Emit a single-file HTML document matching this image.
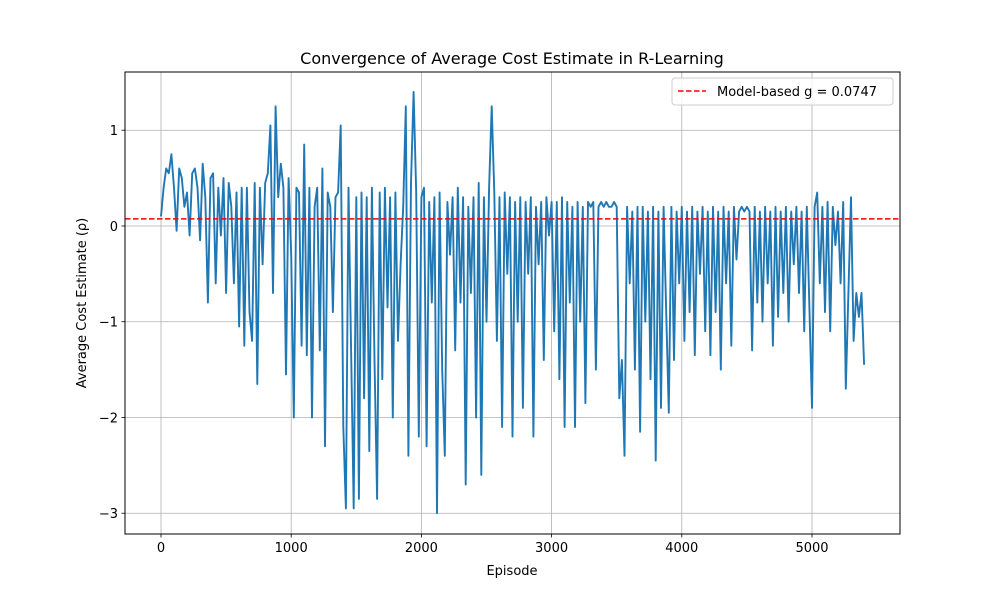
<!DOCTYPE html>
<html><head><meta charset="utf-8"><style>
body{margin:0;background:#fff;font-family:"Liberation Sans","DejaVu Sans",sans-serif;}
</style></head><body>
<svg id="chart" width="1000" height="600" xmlns="http://www.w3.org/2000/svg" font-family="DejaVu Sans, Liberation Sans, sans-serif">
<rect width="1000" height="600" fill="#fff"/>
<g id="grid"></g>
<g id="series"></g>
<rect x="125" y="72" width="775" height="462" fill="none" stroke="#000" stroke-width="1"/>
<g id="ticks"></g>
<text x="512" y="64" text-anchor="middle" font-size="16">Convergence of Average Cost Estimate in R-Learning</text>
<text x="512" y="575" text-anchor="middle" font-size="13">Episode</text>
<text transform="translate(86,303) rotate(-90)" text-anchor="middle" font-size="13">Average Cost Estimate (ρ)</text>
<g>
<rect x="672" y="78" width="221" height="27" fill="#fff" fill-opacity="0.8" stroke="#ccc" rx="3"/>
<line x1="678" y1="91" x2="706" y2="91" stroke="red" stroke-width="1.5" stroke-dasharray="5.5,2.5"/>
<text x="717" y="96" font-size="13">Model-based g = 0.0747</text>
</g>
</svg>
<script>
const xTicks=[0,1000,2000,3000,4000,5000];
const yTicks=[-3,-2,-1,0,1];
const gValue=0.0747;
const episodeStep=20;
const rho=[
0.1,0.4,0.6,0.55,0.75,0.4,-0.05,0.6,0.5,0.2,
0.35,-0.1,0.55,0.6,0.4,-0.15,0.65,0.3,-0.8,0.5,
0.55,-0.6,0.4,-0.1,0.5,-0.7,0.45,0.2,-0.6,0.35,
-1.05,0.4,-1.25,0.4,-0.9,-1.2,0.45,-1.65,0.4,-0.4,
0.45,0.55,1.05,-0.7,1.25,0.3,0.65,0.4,-1.55,0.5,
-0.3,-2.0,0.4,0.35,-1.25,0.85,-1.35,0.4,-2.0,0.2,
0.4,-1.3,0.6,-2.3,0.35,0.2,-0.9,0.3,0.35,1.05,
-2.1,-2.95,0.4,-1.3,-2.95,0.3,-2.85,0.35,-1.8,0.3,
-2.35,0.4,-1.4,-2.85,0.35,-1.6,0.4,-0.85,0.3,-2.0,
0.35,-1.2,-0.4,0.2,1.25,-2.4,0.45,1.4,0.35,-2.2,
0.3,0.4,-2.3,0.25,-0.8,0.3,-3.0,0.35,-1.5,-2.4,
0.25,-0.3,0.3,-1.3,0.4,-0.8,0.3,-2.7,0.2,-0.7,
0.3,-2.0,0.45,-2.6,0.3,-1.0,0.4,1.25,0.35,-1.2,
0.3,-2.1,0.35,-0.5,0.3,-2.2,0.25,-1.0,0.3,-1.9,
0.25,-0.5,0.3,-2.2,0.2,-0.4,0.25,-1.4,0.3,-0.1,
0.25,-1.1,0.25,-1.6,0.3,-2.1,0.25,-0.8,0.2,-2.1,
0.25,-1.0,0.2,-1.85,0.25,0.2,0.25,-1.5,0.2,0.25,
0.2,0.25,0.2,0.2,0.25,0.2,-1.8,-1.4,-2.4,0.2,
-0.6,0.15,-1.5,0.2,-2.15,0.2,-1.0,0.15,-1.6,0.2,
-2.45,0.15,-1.9,0.2,-0.9,-1.95,0.2,-1.4,0.15,-0.6,
0.2,-1.2,0.15,-0.9,0.2,-1.35,0.15,-0.5,0.2,-1.1,
0.15,-1.35,0.2,-0.9,0.15,-1.5,0.2,-0.6,0.15,-1.25,
0.2,-0.35,0.15,0.2,0.15,0.2,0.15,-1.3,0.2,-0.8,
0.15,-1.0,0.2,-0.6,0.15,-1.25,0.2,-0.95,0.15,-0.7,
0.2,-1.0,0.15,-0.4,0.2,-0.7,0.15,-1.1,0.2,-0.85,
-1.9,0.2,0.35,-0.6,0.2,-0.9,0.25,-1.1,0.2,-0.2,
0.15,-0.6,0.25,-1.7,-0.7,0.3,-1.2,-0.7,-0.95,-0.7,-1.45
];
const NS="http://www.w3.org/2000/svg";
const X0=125,X1=900,Y0=72,Y1=534;
const xMin=-276.5,xMax=5676,yMin=-3.217,yMax=1.608;
function sx(v){return X0+(v-xMin)/(xMax-xMin)*(X1-X0);}
function sy(v){return Y1-(v-yMin)/(yMax-yMin)*(Y1-Y0);}
function mk(tag,attrs,parent){const e=document.createElementNS(NS,tag);for(const k in attrs)e.setAttribute(k,attrs[k]);parent.appendChild(e);return e;}
const grid=document.getElementById('grid'),ticks=document.getElementById('ticks'),series=document.getElementById('series');
xTicks.forEach(t=>{
  const x=sx(t);
  const g=mk('line',{x1:x,x2:x,y1:Y0,y2:Y1,stroke:'#b0b0b0','stroke-width':0.8},grid);
  
  
  mk('line',{x1:x,x2:x,y1:Y1,y2:Y1+3.5,stroke:'#000','stroke-width':0.8},ticks);
  const l=mk('text',{x:x,y:Y1+18,'text-anchor':'middle','font-size':'13'},ticks);
  l.textContent=t;
  
  
});
yTicks.forEach(t=>{
  const y=sy(t);
  const g=mk('line',{x1:X0,x2:X1,y1:y,y2:y,stroke:'#b0b0b0','stroke-width':0.8},grid);
  
  
  mk('line',{x1:X0-3.5,x2:X0,y1:y,y2:y,stroke:'#000','stroke-width':0.8},ticks);
  const l=mk('text',{x:X0-7,y:y+5,'text-anchor':'end','font-size':'13'},ticks);
  l.textContent=t<0?'\u2212'+Math.abs(t):String(t);
  
  
});
const pts=rho.map((v,i)=>sx(i*episodeStep).toFixed(1)+','+sy(v).toFixed(1)).join(' ');
const pl=mk('polyline',{points:pts,fill:'none',stroke:'#1f77b4','stroke-width':1.9,'stroke-linejoin':'round'},series);


const gl=mk('line',{x1:X0,x2:X1,y1:sy(gValue),y2:sy(gValue),stroke:'red','stroke-width':1.5,'stroke-dasharray':'5.5,2.5'},series);


</script>
</body></html>
